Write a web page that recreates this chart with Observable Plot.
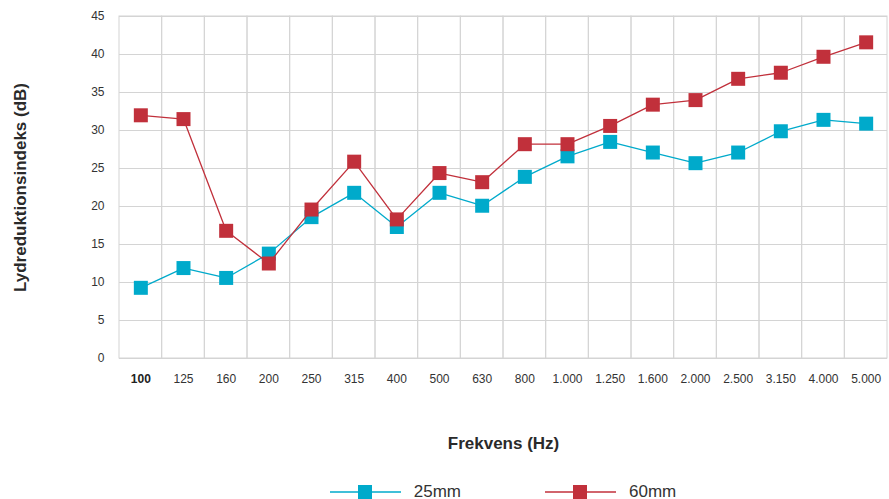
<!DOCTYPE html>
<html><head><meta charset="utf-8">
<script src="https://cdn.jsdelivr.net/npm/d3@7"></script>
<script src="https://cdn.jsdelivr.net/npm/@observablehq/plot@0.6"></script>
<style>
body{margin:0;background:#fff;font-family:"Liberation Sans",Arial,sans-serif;}
#chart svg{display:block;}
#legend{display:flex;justify-content:center;align-items:center;box-sizing:content-box;padding:14px 2px 0 119px;height:15px;width:768px;color:#333;font-size:17px;}
.item{display:flex;align-items:center;}
.sym{position:relative;width:71px;height:14px;margin-right:13px;}
.sym .ln{position:absolute;left:0;right:0;top:6px;height:2px;opacity:.75;}
.sym .sq{position:absolute;left:28px;top:0;width:14px;height:14px;}
.gap{width:84px;}
</style></head><body>
<div id="chart"></div>
<div id="legend"></div>
<script>
const frequencies = ["100","125","160","200","250","315","400","500","630","800","1.000","1.250","1.600","2.000","2.500","3.150","4.000","5.000"];
const seriesNames = ["25mm","60mm"];
const values25mm = [9.3,11.9,10.6,13.8,18.6,21.8,17.3,21.8,20.1,23.9,26.6,28.5,27.1,25.7,27.1,29.9,31.4,30.9];
const values60mm = [32.0,31.5,16.8,12.5,19.6,25.9,18.3,24.4,23.2,28.2,28.2,30.6,33.4,34.0,36.8,37.6,39.7,41.6];
const yTicks = [0,5,10,15,20,25,30,35,40,45];
const seriesColors = ["#00aacb","#c1303b"];
const xLabel = "Frekvens (Hz)";
const yLabel = "Lydreduktionsindeks (dB)";

const data = [
  ...frequencies.map((f,i)=>({freq:f, series:seriesNames[0], value:values25mm[i]})),
  ...frequencies.map((f,i)=>({freq:f, series:seriesNames[1], value:values60mm[i]}))
];

const seriesMarks = seriesNames.flatMap(s => [
  Plot.line(data.filter(d=>d.series===s), {x:"freq", y:"value", stroke:"series", strokeWidth:1.3}),
  Plot.dot(data.filter(d=>d.series===s), {x:"freq", y:"value", fill:"series", symbol:"square", r:7.9})
]);

const chart = Plot.plot({
  width: 889, height: 470,
  marginLeft: 119, marginRight: 2, marginTop: 16, marginBottom: 112,
  style: {fontFamily: "'Liberation Sans', Arial, sans-serif", fontSize: "12px", color: "#333", background: "#fff"},
  x: {type: "band", domain: frequencies, padding: 0, round: false},
  y: {domain: [0,45]},
  color: {domain: seriesNames, range: seriesColors},
  marks: [
    Plot.cell(frequencies, {x: d=>d, fill: "none", stroke: "#d4d4d4", strokeWidth: 1}),
    Plot.ruleY(yTicks, {stroke: "#d4d4d4", strokeWidth: 1}),
    Plot.axisY({ticks: yTicks, tickSize: 0, tickPadding: 15, label: null, fontSize: 12, fill: "#333"}),
    Plot.axisX({ticks: frequencies.slice(1), tickSize: 0, tickPadding: 16, label: null, fontSize: 12, fill: "#333"}),
    Plot.axisX({ticks: frequencies.slice(0,1), tickSize: 0, tickPadding: 16, label: null, fontSize: 12, fill: "#222", fontWeight: "bold"}),
    ...seriesMarks,
    Plot.text([xLabel], {frameAnchor: "bottom", dy: 85, fontSize: 17, fontWeight: "bold", fill: "#2a2a2a", textAnchor: "middle", lineAnchor: "middle"}),
    Plot.text([yLabel], {frameAnchor: "left", dx: -99, rotate: -90, fontSize: 17, fontWeight: "bold", fill: "#2a2a2a", textAnchor: "middle", lineAnchor: "middle"})
  ]
});
document.getElementById("chart").appendChild(chart);

const legend = document.getElementById("legend");
seriesNames.forEach((s,i) => {
  if (i>0) { const g=document.createElement("div"); g.className="gap"; legend.appendChild(g); }
  const item = document.createElement("div"); item.className="item";
  item.innerHTML = `<div class="sym"><div class="ln" style="background:${seriesColors[i]}"></div><div class="sq" style="background:${seriesColors[i]}"></div></div><span>${s}</span>`;
  legend.appendChild(item);
});
</script>
</body></html>
